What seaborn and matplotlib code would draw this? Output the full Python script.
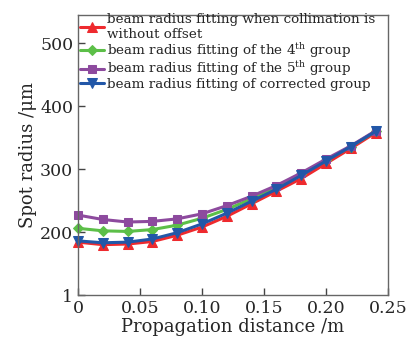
import matplotlib
matplotlib.use("Agg")
import matplotlib.pyplot as plt
import seaborn as sns
import pandas as pd

distance = [0.00, 0.02, 0.04, 0.06, 0.08, 0.10, 0.12, 0.14, 0.16, 0.18, 0.20, 0.22, 0.24]
no_offset = [184, 180, 181, 185, 195, 208, 225, 245, 265, 285, 309, 333, 358]
group4 = [206, 202, 201, 204, 211, 222, 236, 253, 271, 292, 314, 336, 360]
group5 = [227, 220, 216, 217, 221, 229, 242, 257, 274, 294, 316, 337, 361]
corrected = [186, 183, 184, 189, 199, 213, 230, 249, 268, 290, 313, 336, 360]

labels = [
    "beam radius fitting when collimation is\nwithout offset",
    "beam radius fitting of the 4$^{\\mathrm{th}}$ group",
    "beam radius fitting of the 5$^{\\mathrm{th}}$ group",
    "beam radius fitting of corrected group",
]
series = [no_offset, group4, group5, corrected]
colors = ["#ee2a2e", "#5cbf48", "#8d4a9e", "#2257a8"]
markers = ["^", "D", "s", "v"]
msizes = [7, 5.5, 6, 7]

xticks = [0, 0.05, 0.10, 0.15, 0.20, 0.25]
xticklabels = ["0", "0.05", "0.10", "0.15", "0.20", "0.25"]
yticks = [100, 200, 300, 400, 500]
yticklabels = ["1", "200", "300", "400", "500"]

sns.set_style("ticks")
plt.rcParams["font.family"] = ["DejaVu Serif"]
plt.rcParams["mathtext.fontset"] = "dejavuserif"

fig = plt.figure(figsize=(4.08, 3.46), dpi=100)
ax = fig.add_axes([78/408, 1-295/346, (388-78)/408, (295-15)/346])

for lab, vals, c, m, ms in zip(labels, series, colors, markers, msizes):
    df = pd.DataFrame({"x": distance, "y": vals})
    sns.lineplot(data=df, x="x", y="y", ax=ax, color=c, marker=m, markersize=ms,
                 markeredgecolor=c, linewidth=2.2, label=lab, clip_on=False)

ax.set_xlim(0, 0.25)
ax.set_ylim(100, 545)
ax.set_xticks(xticks)
ax.set_xticklabels(xticklabels)
ax.set_yticks(yticks)
ax.set_yticklabels(yticklabels)
ax.tick_params(direction="in", length=5, labelsize=12.5, width=1, color="#444444")
ax.set_xlabel("Propagation distance /m", fontsize=13, labelpad=1)
ax.set_ylabel("Spot radius /μm", fontsize=13, labelpad=2)
for s in ax.spines.values():
    s.set_color("#666666")
    s.set_linewidth(1)

leg = ax.legend(loc="upper left", bbox_to_anchor=(0.0, 1.0 + 4/280), borderaxespad=0,
                fontsize=9.7, handlelength=1.8, handletextpad=0.2, labelspacing=-0.02,
                borderpad=0.15, frameon=False)

fig.savefig("out.png", dpi=100)
